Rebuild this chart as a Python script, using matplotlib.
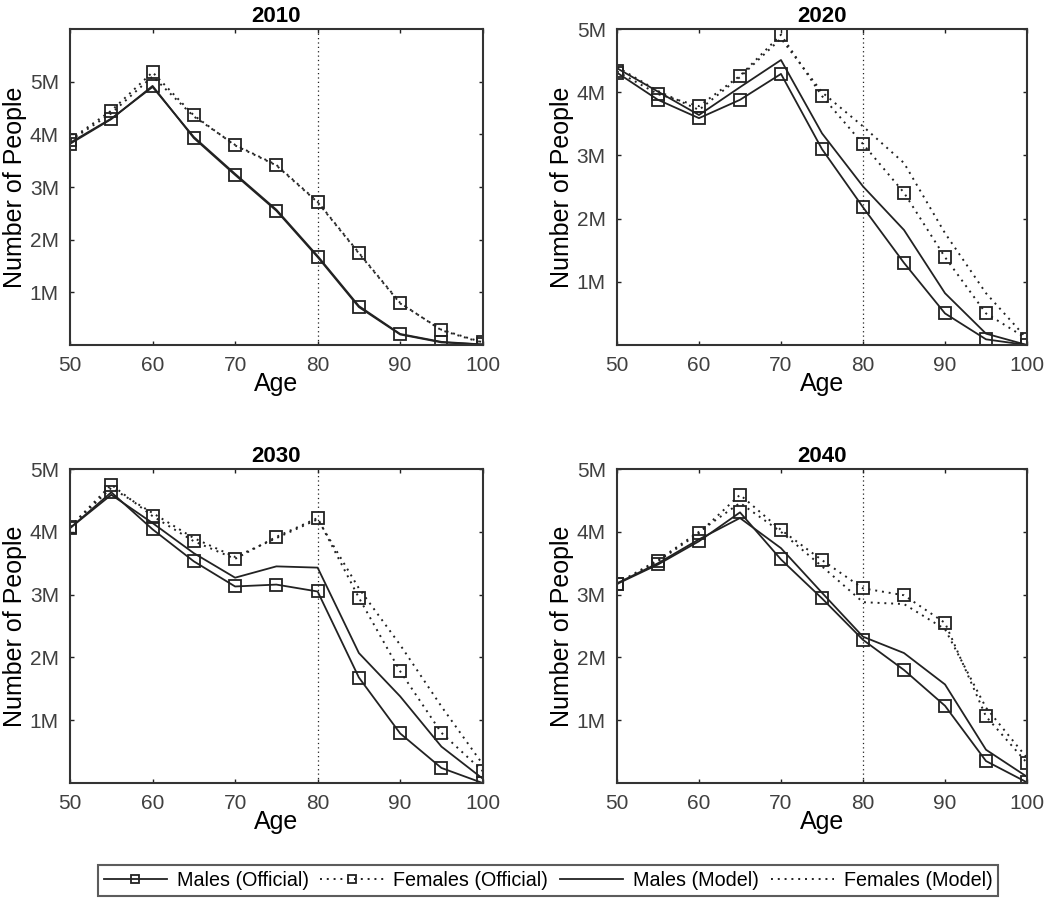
import matplotlib
matplotlib.use("Agg")
import matplotlib.pyplot as plt
from matplotlib.ticker import FixedLocator

plt.rcParams["font.family"] = ["Liberation Sans", "DejaVu Sans"]

ages = [50, 55, 60, 65, 70, 75, 80, 85, 90, 95, 100]
years = ["2010", "2020", "2030", "2040"]

# values in millions
males_official = {
    "2010": [3.82, 4.29, 4.92, 3.93, 3.23, 2.55, 1.67, 0.72, 0.20, 0.05, 0.01],
    "2020": [4.31, 3.88, 3.59, 3.88, 4.29, 3.10, 2.18, 1.30, 0.50, 0.09, 0.00],
    "2030": [4.06, 4.63, 4.04, 3.53, 3.13, 3.16, 3.05, 1.68, 0.79, 0.24, 0.00],
    "2040": [3.17, 3.48, 3.85, 4.31, 3.56, 2.94, 2.28, 1.80, 1.23, 0.35, 0.01],
}
females_official = {
    "2010": [3.90, 4.45, 5.18, 4.36, 3.79, 3.41, 2.71, 1.74, 0.79, 0.29, 0.05],
    "2020": [4.33, 3.97, 3.78, 4.26, 4.91, 3.94, 3.18, 2.41, 1.39, 0.50, 0.10],
    "2030": [4.08, 4.75, 4.25, 3.85, 3.57, 3.92, 4.22, 2.95, 1.78, 0.80, 0.19],
    "2040": [3.17, 3.53, 3.98, 4.59, 4.03, 3.55, 3.10, 2.99, 2.55, 1.06, 0.32],
}
males_model = {
    "2010": [3.84, 4.30, 4.90, 3.95, 3.25, 2.57, 1.69, 0.74, 0.21, 0.06, 0.01],
    "2020": [4.38, 4.01, 3.64, 4.08, 4.51, 3.35, 2.51, 1.82, 0.82, 0.18, 0.00],
    "2030": [4.06, 4.59, 4.14, 3.66, 3.27, 3.45, 3.43, 2.07, 1.38, 0.58, 0.07],
    "2040": [3.18, 3.50, 3.88, 4.22, 3.74, 3.03, 2.33, 2.07, 1.57, 0.53, 0.10],
}
females_model = {
    "2010": [3.88, 4.40, 5.10, 4.34, 3.80, 3.42, 2.72, 1.75, 0.80, 0.28, 0.04],
    "2020": [4.40, 4.02, 3.72, 4.24, 4.85, 4.00, 3.46, 2.88, 1.77, 0.82, 0.10],
    "2030": [4.08, 4.70, 4.30, 3.90, 3.60, 3.90, 4.20, 3.10, 2.20, 1.22, 0.30],
    "2040": [3.18, 3.55, 4.00, 4.46, 4.00, 3.45, 2.88, 2.85, 2.45, 1.20, 0.40],
}
y_max = {"2010": 6, "2020": 5, "2030": 5, "2040": 5}
y_ticks = [1, 2, 3, 4, 5]
y_tick_labels = ["1M", "2M", "3M", "4M", "5M"]
x_ticks = [50, 60, 70, 80, 90, 100]

fig = plt.figure(figsize=(10.5, 9.02), dpi=100)
positions = [
    [0.0667, 0.6175, 0.393, 0.3503],
    [0.5876, 0.6175, 0.3905, 0.3503],
    [0.0667, 0.1319, 0.393, 0.3481],
    [0.5876, 0.1319, 0.3905, 0.3481],
]

dark = "#222222"
grey = "#404040"
handles = None
for year, pos in zip(years, positions):
    ax = fig.add_axes(pos)
    ax.axvline(80, color=dark, lw=0.9, ls=(0, (1, 2.5)), zorder=1)
    h1, = ax.plot(ages, males_official[year], color=dark, lw=1.3, marker="s",
                  markersize=8.5, markerfacecolor="none", markeredgecolor=dark,
                  markeredgewidth=1.3, label="Males (Official)")
    h2, = ax.plot(ages, females_official[year], color=dark, lw=1.4, ls=(0, (1, 2.5)),
                  marker="s", markersize=8.5, markerfacecolor="none",
                  markeredgecolor=dark, markeredgewidth=1.3, label="Females (Official)")
    h3, = ax.plot(ages, males_model[year], color=dark, lw=1.3, label="Males (Model)")
    h4, = ax.plot(ages, females_model[year], color=dark, lw=1.4, ls=(0, (1, 2.5)),
                  label="Females (Model)")
    if handles is None:
        handles = [h1, h2, h3, h4]
    ax.set_xlim(50, 100)
    ax.set_ylim(0, y_max[year])
    ax.xaxis.set_major_locator(FixedLocator(x_ticks))
    ax.set_yticks(y_ticks)
    ax.set_yticklabels(y_tick_labels)
    ax.tick_params(direction="in", length=3, width=1, colors=dark, top=True,
                   right=True, labelsize=15, labelcolor=grey, pad=8)
    for s in ax.spines.values():
        s.set_color("#333333")
        s.set_linewidth(1.5)
    ax.set_title(year, fontsize=16, fontweight="bold", pad=5)
    ax.set_xlabel("Age", fontsize=18, labelpad=-2)
    ax.set_ylabel("Number of People", fontsize=18, labelpad=2)

leg = fig.legend(handles=handles, loc="lower center", ncol=4,
                 bbox_to_anchor=(0.522, -0.004), fontsize=14.2, frameon=True,
                 fancybox=False, handlelength=3.2, handletextpad=0.5,
                 columnspacing=0.6, borderpad=0.3, markerscale=0.7)
leg.get_frame().set_edgecolor("#333333")
leg.get_frame().set_linewidth(1.5)

fig.savefig("out.png", dpi=100)
